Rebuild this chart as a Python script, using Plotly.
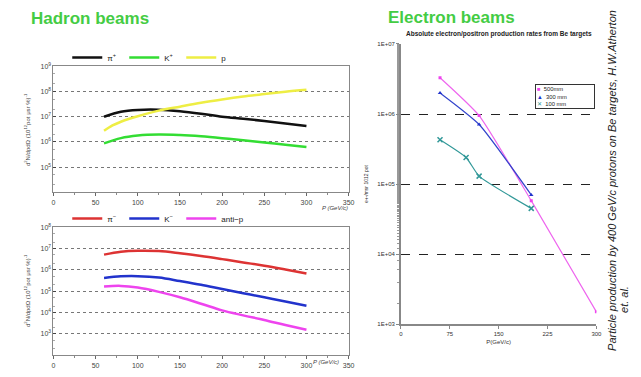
import plotly.graph_objects as go

# ---------------- data ----------------
P_had = [60, 80, 100, 125, 150, 175, 200, 225, 250, 275, 300]
pi_plus = [1.0e7, 1.58e7, 1.86e7, 1.9e7, 1.66e7, 1.32e7, 1.0e7, 8.3e6, 6.8e6, 5.4e6, 4.3e6]
k_plus = [8.7e5, 1.41e6, 1.78e6, 1.95e6, 1.86e6, 1.66e6, 1.41e6, 1.17e6, 9.5e5, 7.8e5, 6.3e5]
P_p = [60, 70, 80, 90, 100, 125, 150, 175, 200, 225, 250, 275, 300]
p_plus = [2.75e6, 4.5e6, 6.3e6, 8.3e6, 1.05e7, 1.74e7, 2.5e7, 3.55e7, 4.8e7, 6.3e7, 7.9e7, 9.8e7, 1.17e8]

pi_minus = [5.2e6, 7.1e6, 7.9e6, 7.6e6, 6.0e6, 4.5e6, 3.2e6, 2.24e6, 1.58e6, 1.05e6, 6.8e5]
k_minus = [4.2e5, 5.0e5, 5.1e5, 4.4e5, 3.0e5, 2.0e5, 1.26e5, 8.1e4, 5.2e4, 3.3e4, 2.1e4]
anti_p = [1.66e5, 1.78e5, 1.48e5, 9.3e4, 5.2e4, 2.6e4, 1.26e4, 7.4e3, 4.5e3, 2.6e3, 1.55e3]

P_e500 = [60, 120, 200, 300]
e500 = [3.3e6, 9.5e5, 5.8e4, 1.5e3]
P_e300 = [60, 120, 200]
e300 = [2.0e6, 7.1e5, 7.0e4]
P_e100 = [60, 100, 120, 200]
e100 = [4.3e5, 2.4e5, 1.3e5, 4.5e4]

had_x_ticks = [0, 50, 100, 150, 200, 250, 300, 350]
top_exps = [9, 8, 7, 6, 5]
bot_exps = [8, 7, 6, 5, 4, 3]
el_x_ticks = [0, 75, 150, 225, 300]
el_y_vals = [1e3, 1e4, 1e5, 1e6, 1e7]
el_y_text = ["1E+03", "1E+04", "1E+05", "1E+06", "1E+07"]

# page has an 8px body margin; figure sized to fill the 641x377 window exactly
OFF = 8
W, H = 641 - 2 * OFF, 377 - 2 * OFF
def px(x): return (x - OFF) / W
def py(y): return 1 - (y - OFF) / H

FONT = "Liberation Sans, Arial, sans-serif"
fig = go.Figure()

LW = 2.5
fig.add_trace(go.Scatter(x=P_had, y=pi_plus, mode="lines", line=dict(color="#111111", width=LW, shape="spline"),
                         name="π<sup>+</sup>", xaxis="x", yaxis="y", legend="legend"))
fig.add_trace(go.Scatter(x=P_had, y=k_plus, mode="lines", line=dict(color="#33dd33", width=LW, shape="spline"),
                         name="K<sup>+</sup>", xaxis="x", yaxis="y", legend="legend"))
fig.add_trace(go.Scatter(x=P_p, y=p_plus, mode="lines", line=dict(color="#eeee44", width=LW, shape="spline"),
                         name="p", xaxis="x", yaxis="y", legend="legend"))
fig.add_trace(go.Scatter(x=P_had, y=pi_minus, mode="lines", line=dict(color="#dd3333", width=LW, shape="spline"),
                         name="π<sup>−</sup>", xaxis="x2", yaxis="y2", legend="legend2"))
fig.add_trace(go.Scatter(x=P_had, y=k_minus, mode="lines", line=dict(color="#2233cc", width=LW, shape="spline"),
                         name="K<sup>−</sup>", xaxis="x2", yaxis="y2", legend="legend2"))
fig.add_trace(go.Scatter(x=P_had, y=anti_p, mode="lines", line=dict(color="#ee44ee", width=LW, shape="spline"),
                         name="anti−p", xaxis="x2", yaxis="y2", legend="legend2"))
# invisible spacer entries so the last legend labels are not clipped
for lg, xa, ya in (("legend", "x", "y"), ("legend2", "x2", "y2")):
    fig.add_trace(go.Scatter(x=[None], y=[None], mode="lines", line=dict(width=0, color="rgba(0,0,0,0)"),
                             name=" ", xaxis=xa, yaxis=ya, legend=lg, hoverinfo="skip"))

fig.add_trace(go.Scatter(x=P_e500, y=e500, mode="lines+markers", line=dict(color="#ee66ee", width=1.2, shape="spline", smoothing=0.5),
                         marker=dict(symbol="square", size=3, color="#ee44ee"),
                         name="500mm", xaxis="x3", yaxis="y3", showlegend=False))
fig.add_trace(go.Scatter(x=P_e300, y=e300, mode="lines+markers", line=dict(color="#3344cc", width=1.2, shape="spline", smoothing=0.5),
                         marker=dict(symbol="triangle-up", size=4, color="#2233cc"),
                         name="300 mm", xaxis="x3", yaxis="y3", showlegend=False))
fig.add_trace(go.Scatter(x=P_e100, y=e100, mode="lines+markers", line=dict(color="#339999", width=1.2, shape="spline", smoothing=0.5),
                         marker=dict(symbol="x-thin", size=5, color="#339999", line=dict(width=1.5, color="#339999")),
                         name="100 mm", xaxis="x3", yaxis="y3", showlegend=False))

tickfont = dict(family=FONT, size=7, color="#444444")
def had_x(anchor):
    return dict(domain=[px(52), px(351)], range=[0, 350], tickvals=had_x_ticks, ticks="outside",
                ticklen=3, tickcolor="#666", showgrid=False, zeroline=False, showline=True, linecolor="#888",
                mirror=True, tickfont=tickfont, anchor=anchor,
                minor=dict(dtick=25, ticklen=2, ticks="outside", tickcolor="#888"))
def had_y(lo, hi, exps, dom, anchor):
    return dict(type="log", domain=dom, range=[lo, hi], tickvals=[10 ** e for e in exps],
                ticktext=["10<sup>%d</sup>" % e for e in exps], ticks="inside", ticklen=3, tickcolor="#444",
                showgrid=True, gridcolor="#777", griddash="dot", gridwidth=0.8, zeroline=False,
                showline=True, linecolor="#888", mirror=True, tickfont=tickfont, anchor=anchor,
                minor=dict(ticks="inside", ticklen=2, tickcolor="#aaa", showgrid=False))

ytitle = "d<sup>2</sup>N/dpdΩ (10<sup>12</sup>pot μsr %)<sup>-1</sup>"

fig.update_layout(
    width=W, height=H, margin=dict(l=0, r=0, t=0, b=0),
    paper_bgcolor="white", plot_bgcolor="white",
    font=dict(family=FONT, size=8, color="#222"),
    xaxis=had_x("y"),
    yaxis=had_y(4, 9, top_exps, [py(194), py(64)], "x"),
    xaxis2=had_x("y2"),
    yaxis2=had_y(2, 8, bot_exps, [py(362), py(230)], "x2"),
    xaxis3=dict(domain=[px(404), px(602)], range=[0, 300], tickvals=el_x_ticks, anchor="y3",
                showline=True, linecolor="#888", linewidth=1.8, ticks="outside", ticklen=3, tickcolor="#888",
                showgrid=False, zeroline=False, tickfont=dict(family=FONT, size=6, color="#333"),
                title=dict(text="P(GeV/c)", font=dict(family=FONT, size=6, color="#333"), standoff=4)),
    yaxis3=dict(type="log", domain=[py(330), py(41)], range=[3, 7], tickvals=el_y_vals, ticktext=el_y_text,
                anchor="x3", showline=True, linecolor="#888", linewidth=1.8, ticks="outside", ticklen=3,
                tickcolor="#888", showgrid=True, gridcolor="#222", griddash="dash", gridwidth=0.8, zeroline=False,
                tickfont=dict(family=FONT, size=6, color="#333"),
                minor=dict(ticks="outside", ticklen=2, tickcolor="#999", showgrid=False),
                title=dict(text="e+-/msr 1012 pot", font=dict(family=FONT, size=5, color="#333"), standoff=9)),
    legend=dict(orientation="h", x=px(66), y=py(40), xanchor="left", yanchor="top", bgcolor="rgba(0,0,0,0)",
                font=dict(family=FONT, size=8, color="#222"), entrywidth=12, entrywidthmode="pixels",
                itemwidth=30),
    legend2=dict(orientation="h", x=px(66), y=py(206), xanchor="left", yanchor="top", bgcolor="rgba(0,0,0,0)",
                 font=dict(family=FONT, size=8, color="#222"), entrywidth=12, entrywidthmode="pixels",
                 itemwidth=30),
    showlegend=True,
)

legend3_text = ("<span style='color:#ee44ee'>■</span>  500mm<br>"
                "<span style='color:#2233cc'>▲</span>  300 mm<br>"
                "<span style='color:#339999'>✕</span>  100 mm")

ann = [
    dict(text="<b>Hadron beams</b>", x=px(27), y=py(15), xanchor="left", yanchor="middle",
         font=dict(family=FONT, size=17, color="#44cc44")),
    dict(text="<b>Electron beams</b>", x=px(389), y=py(14), xanchor="left", yanchor="middle",
         font=dict(family=FONT, size=17, color="#44cc44")),
    dict(text="<b>Absolute electron/positron production rates from Be targets</b>", x=px(503), y=py(31),
         xanchor="center", yanchor="middle", font=dict(family=FONT, size=6.5, color="#222")),
    dict(text="<i>P (GeV/c)</i>", x=px(337), y=py(210), xanchor="center", yanchor="middle",
         font=dict(family=FONT, size=6, color="#444")),
    dict(text="<i>P (GeV/c)</i>", x=px(328), y=py(369), xanchor="center", yanchor="middle",
         font=dict(family=FONT, size=6, color="#444")),
    dict(text=ytitle, x=px(26), y=py(129), textangle=-90, xanchor="center", yanchor="middle",
         font=dict(family=FONT, size=6, color="#444")),
    dict(text=ytitle, x=px(26), y=py(295), textangle=-90, xanchor="center", yanchor="middle",
         font=dict(family=FONT, size=6, color="#444")),
    dict(text="<i>Particle production by 400 GeV/c protons on Be targets, H.W.Atherton</i>", x=px(617), y=py(182),
         textangle=-90, xanchor="center", yanchor="middle", font=dict(family=FONT, size=11, color="#222")),
    dict(text="<i>et. al.</i>", x=px(630), y=py(305), textangle=-90, xanchor="center", yanchor="middle",
         font=dict(family=FONT, size=11, color="#222")),
    dict(text=legend3_text, x=px(540), y=py(82), xanchor="left", yanchor="top", align="left",
         width=56, bordercolor="#333", borderwidth=1, borderpad=1, bgcolor="white",
         font=dict(family=FONT, size=5.8, color="#222")),
]
for a in ann:
    a.update(xref="paper", yref="paper", showarrow=False)
fig.update_layout(annotations=ann)

fig.write_html("out.html")
